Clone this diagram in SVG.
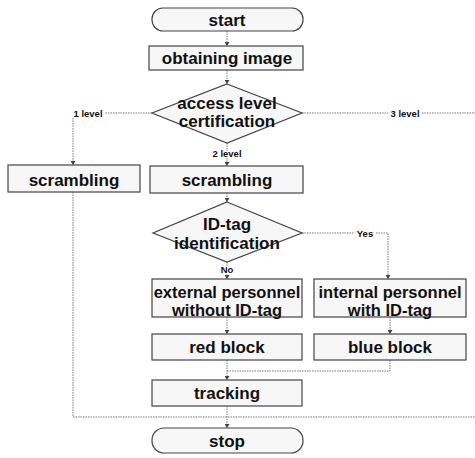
<svg xmlns="http://www.w3.org/2000/svg" width="475" height="458" viewBox="0 0 475 458">
<style>
.box{fill:#f7f7f7;stroke:#444;stroke-width:1.2}
.t{font-family:"Liberation Sans",Arial,sans-serif;font-weight:bold;font-size:17px;fill:#111;text-anchor:middle;dominant-baseline:central}
.p{font-size:16.5px}
.s{font-family:"Liberation Sans",Arial,sans-serif;font-weight:bold;font-size:9.5px;fill:#111;text-anchor:middle;dominant-baseline:central}
.c{fill:none;stroke:#777;stroke-width:1;stroke-dasharray:1.5 1}
</style>
<defs>
<marker id="ah" markerWidth="5" markerHeight="5" refX="4" refY="2.5" orient="auto" markerUnits="userSpaceOnUse">
<path d="M0,0 L4,2.5 L0,5 Z" fill="#444"/>
</marker>
</defs>
<rect width="475" height="458" fill="#fff"/>
<g id="connectors">
<line class="c" x1="227" y1="31" x2="227" y2="46" marker-end="url(#ah)"/>
<line class="c" x1="227" y1="70" x2="227" y2="84" marker-end="url(#ah)"/>
<polyline class="c" points="152,113 105,113"/>
<polyline class="c" points="73,118 73,165" marker-end="url(#ah)"/>
<polyline class="c" points="302,113 388,113"/>
<polyline class="c" points="422,113 475,113"/>
<line class="c" x1="227" y1="143" x2="227" y2="166" marker-end="url(#ah)"/>
<line class="c" x1="227" y1="193" x2="227" y2="202" marker-end="url(#ah)"/>
<line class="c" x1="227" y1="262" x2="227" y2="279" marker-end="url(#ah)"/>
<polyline class="c" points="302,233 354,233"/>
<polyline class="c" points="376,233 388,233 388,279" marker-end="url(#ah)"/>
<line class="c" x1="227" y1="317" x2="227" y2="334" marker-end="url(#ah)"/>
<line class="c" x1="390" y1="317" x2="390" y2="334" marker-end="url(#ah)"/>
<line class="c" x1="227" y1="360" x2="227" y2="380" marker-end="url(#ah)"/>
<polyline class="c" points="390,360 390,371 227,371"/>
<line class="c" x1="227" y1="406" x2="227" y2="428" marker-end="url(#ah)"/>
<polyline class="c" points="73,192 73,417 475,417"/>
<text class="s" x="88" y="113">1 level</text>
<text class="s" x="405" y="113">3 level</text>
<text class="s" x="227" y="153" style="paint-order:stroke;stroke:#fff;stroke-width:2">2 level</text>
<text class="s" x="227" y="269" style="paint-order:stroke;stroke:#fff;stroke-width:2">No</text>
<text class="s" x="365" y="233">Yes</text>
</g>
<g id="start"><rect class="box" x="152" y="8" width="151" height="23" rx="11"/><text class="t" x="227" y="20">start</text></g>
<g id="obtain"><rect class="box" x="149" y="46" width="154" height="24"/><text class="t" x="227" y="58">obtaining image</text></g>
<g id="access"><polygon class="box" points="227,84 302,113 227,143 152,113"/><text class="t" x="227" y="103">access level</text><text class="t" x="227" y="121">certification</text></g>
<g id="scramble1"><rect class="box" x="8" y="165" width="132" height="27"/><text class="t" x="74" y="180">scrambling</text></g>
<g id="scramble2"><rect class="box" x="150" y="166" width="153" height="27"/><text class="t" x="227" y="180">scrambling</text></g>
<g id="idtag"><polygon class="box" points="227,202 302,233 227,262 153,233"/><text class="t" x="227" y="224">ID-tag</text><text class="t" x="227" y="243">identification</text></g>
<g id="external"><rect class="box" x="152" y="279" width="150" height="38"/><text class="t p" x="227" y="292">external personnel</text><text class="t p" x="227" y="310">without ID-tag</text></g>
<g id="internal"><rect class="box" x="314" y="279" width="152" height="38"/><text class="t p" x="390" y="292">internal personnel</text><text class="t p" x="390" y="310">with ID-tag</text></g>
<g id="red"><rect class="box" x="152" y="334" width="150" height="26"/><text class="t" x="227" y="347">red block</text></g>
<g id="blue"><rect class="box" x="314" y="334" width="152" height="26"/><text class="t" x="390" y="347">blue block</text></g>
<g id="tracking"><rect class="box" x="152" y="380" width="150" height="26"/><text class="t" x="227" y="393">tracking</text></g>
<g id="stop"><rect class="box" x="152" y="428" width="151" height="25" rx="12"/><text class="t" x="227" y="441">stop</text></g>
</svg>
